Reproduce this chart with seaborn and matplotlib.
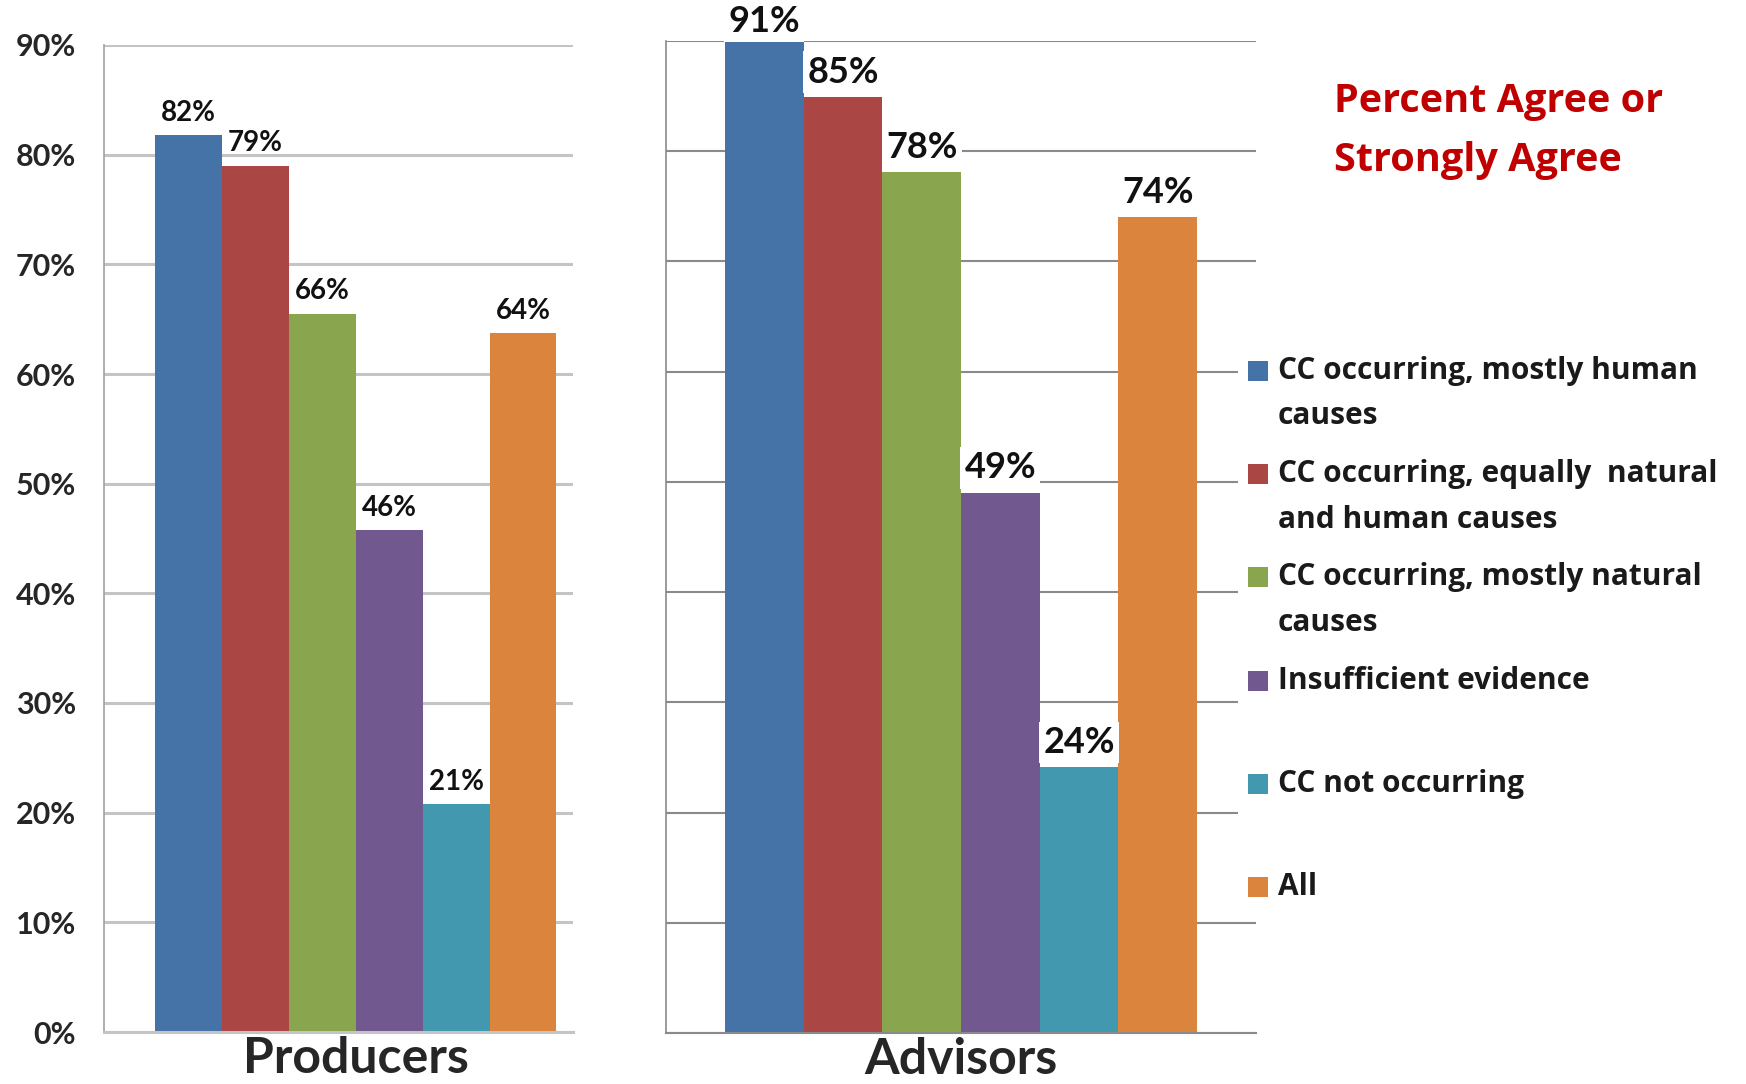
import numpy as np
import pandas as pd
import matplotlib
matplotlib.use("Agg")
import matplotlib.pyplot as plt
import seaborn as sns
from matplotlib.patches import Rectangle

# ---------------- data ----------------
groups = ["Producers", "Advisors"]
categories = [
    "CC occurring, mostly human causes",
    "CC occurring, equally  natural and human causes",
    "CC occurring, mostly natural causes",
    "Insufficient evidence",
    "CC not occurring",
    "All",
]
legend_lines = [
    ["CC occurring, mostly human", "causes"],
    ["CC occurring, equally  natural", "and human causes"],
    ["CC occurring, mostly natural", "causes"],
    ["Insufficient evidence"],
    ["CC not occurring"],
    ["All"],
]
producers_values = [81.8, 79.0, 65.5, 45.8, 20.8, 63.7]
advisors_values = [91.0, 84.9, 78.1, 49.0, 24.1, 74.0]
producers_labels = ["82%", "79%", "66%", "46%", "21%", "64%"]
advisors_labels = ["91%", "85%", "78%", "49%", "24%", "74%"]
colors = ["#4572A7", "#AA4643", "#89A54E", "#71588F", "#4198AF", "#DB843D"]
ytick_values = [0, 10, 20, 30, 40, 50, 60, 70, 80, 90]
ytick_labels = ["0%", "10%", "20%", "30%", "40%", "50%", "60%", "70%", "80%", "90%"]
title_lines = ["Percent Agree or", "Strongly Agree"]

df = pd.DataFrame({
    "group": [groups[0]] * 6 + [groups[1]] * 6,
    "category": categories * 2,
    "value": producers_values + advisors_values,
})

sns.set_style("white")
plt.rcParams["font.family"] = ["Lato", "DejaVu Sans"]

W, H = 1746, 1084
fig = plt.figure(figsize=(W / 100, H / 100), dpi=100)

def fx(px):
    return px / W

def fy(py):
    return 1 - py / H

ax1 = fig.add_axes([fx(104), fy(1032), fx(573) - fx(104), fy(45) - fy(1032)])
ax2 = fig.add_axes([fx(666), fy(1033), fx(1256) - fx(666), fy(41) - fy(1033)])

panels = [
    (ax1, groups[0], producers_labels, (-0.502, 0.433), "#C4C4C4", 2.2, 20, "bold", False, 16),
    (ax2, groups[1], advisors_labels, (-0.5, 0.5), "#8A8A8A", 1.5, 26, "bold", True, 18),
]

for ax, grp, labels, xlim, gcol, glw, lsize, lweight, use_box, off in panels:
    sub = df[df["group"] == grp]
    sns.barplot(data=sub, x="group", y="value", hue="category", hue_order=categories,
                palette=colors, saturation=1, width=0.8, gap=0, errorbar=None,
                legend=False, linewidth=0, ax=ax)
    ax.set_ylim(0, 90)
    ax.set_xlim(*xlim)
    ax.set_yticks(ytick_values)
    ax.yaxis.grid(True, color=gcol, linewidth=glw)
    ax.xaxis.grid(False)
    ax.set_axisbelow(True)
    for s in ["top", "right"]:
        ax.spines[s].set_visible(False)
    ax.spines["left"].set_color("#A0A0A0" if ax is ax1 else gcol)
    ax.spines["left"].set_linewidth(1.2)
    ax.spines["bottom"].set_color(gcol)
    ax.spines["bottom"].set_linewidth(glw)
    ax.tick_params(axis="y", direction="out", length=7, width=glw, color=gcol)
    ax.set_xlabel("")
    ax.set_ylabel("")
    ax.set_xticks([0])
    ax.set_xticklabels([grp], fontsize=36, fontweight="bold")
    ax.tick_params(axis="x", which="major", length=0, pad=3)
    ax.set_xticks([xlim[0], xlim[1]], minor=True)
    ax.tick_params(axis="x", which="minor", direction="out", length=8, width=1.2, color=gcol)

    ytop = ax.get_ylim()[1]
    for cont, lab in zip(ax.containers, labels):
        for rect in cont:
            xc = rect.get_x() + rect.get_width() / 2
            h = rect.get_height()
            yv = min(h, ytop)
            o = off if h <= ytop else off - 4
            kw = dict(ha="center", va="center", fontsize=lsize, fontweight=lweight,
                      color="#111111", annotation_clip=False, zorder=5)
            if use_box:
                kw["bbox"] = dict(boxstyle="square,pad=0.12", facecolor="white", edgecolor="none")
            ax.annotate(lab, (xc, yv), xytext=(0, o), textcoords="offset points", **kw)

ax1.set_yticklabels(ytick_labels, fontsize=22, fontweight="bold")
ax1.tick_params(axis="y", pad=13)
ax2.set_yticklabels([])

# legend (manual, white background covering gridlines)
fig.add_artist(Rectangle((fx(1238), fy(907)), fx(1746) - fx(1238), fy(345) - fy(907),
                         transform=fig.transFigure, facecolor="white", edgecolor="none", zorder=2))
row0, row_step, line_step = 370.8, 103.3, 45.6
sq = 20
for i, (lines, c) in enumerate(zip(legend_lines, colors)):
    yc = row0 + i * row_step
    fig.add_artist(Rectangle((fx(1248), fy(yc + sq / 2)), fx(sq), sq / H,
                             transform=fig.transFigure, facecolor=c, edgecolor="none", zorder=3))
    for j, ln in enumerate(lines):
        fig.text(fx(1278), fy(yc + j * line_step), ln, fontsize=21.5, fontweight="bold",
                 family=["Open Sans", "DejaVu Sans"], color="#1a1a1a", va="center", ha="left", zorder=4)

for j, t in enumerate(title_lines):
    fig.text(fx(1334), fy(102 + j * 59), t, fontsize=28.5, fontweight="bold", color="#C00000",
             family=["Open Sans", "DejaVu Sans"], va="center", ha="left")

fig.savefig("out.png", dpi=100, facecolor="white")
